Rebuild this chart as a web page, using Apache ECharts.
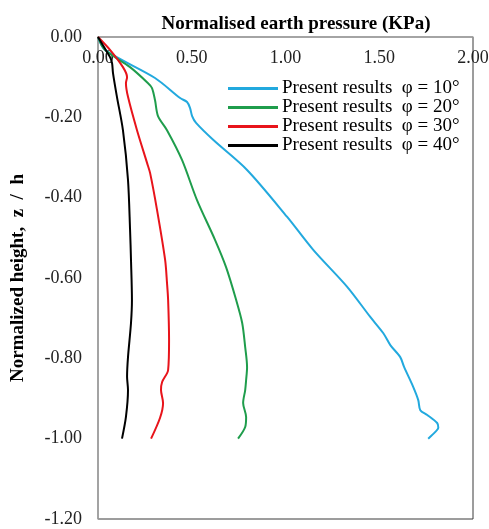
<!DOCTYPE html>
<html>
<head>
<meta charset="utf-8">
<script src="https://cdn.jsdelivr.net/npm/echarts@6/dist/echarts.min.js"></script>
<style>
  html, body { margin: 0; padding: 0; background: #fff; }
  #chart { width: 489px; height: 529px; }
</style>
</head>
<body>
<div id="chart"></div>
<script>
// normalised earth pressure (x) against normalised height (y)
const phi10Pressure = [0, 0.037, 0.304, 0.438, 0.475, 0.491, 0.502, 0.523, 0.614, 0.795, 1.009, 1.148, 1.329, 1.452, 1.521, 1.559, 1.612, 1.633, 1.681, 1.708, 1.719, 1.756, 1.809, 1.815, 1.799, 1.761]
const phi10Height = [0, -0.032, -0.102, -0.152, -0.162, -0.177, -0.197, -0.214, -0.256, -0.331, -0.448, -0.530, -0.622, -0.697, -0.737, -0.767, -0.797, -0.822, -0.871, -0.904, -0.929, -0.941, -0.961, -0.973, -0.983, -1.0]

const phi20Pressure = [0, 0.037, 0.171, 0.267, 0.288, 0.304, 0.320, 0.368, 0.448, 0.528, 0.624, 0.683, 0.737, 0.769, 0.785, 0.795, 0.790, 0.785, 0.774, 0.790, 0.785, 0.747]
const phi20Height = [0, -0.032, -0.075, -0.115, -0.127, -0.157, -0.197, -0.232, -0.306, -0.406, -0.505, -0.573, -0.655, -0.712, -0.772, -0.822, -0.854, -0.879, -0.911, -0.946, -0.971, -1.0]

const phi30Pressure = [0, 0.064, 0.133, 0.155, 0.149, 0.160, 0.208, 0.262, 0.278, 0.315, 0.358, 0.368, 0.374, 0.379, 0.374, 0.342, 0.336, 0.347, 0.331, 0.283]
const phi30Height = [0, -0.032, -0.075, -0.100, -0.115, -0.149, -0.232, -0.314, -0.339, -0.431, -0.555, -0.612, -0.655, -0.754, -0.829, -0.859, -0.879, -0.911, -0.948, -1.0]

const phi40Pressure = [0, 0.032, 0.064, 0.075, 0.080, 0.101, 0.133, 0.160, 0.171, 0.176, 0.181, 0.176, 0.160, 0.155, 0.160, 0.149, 0.128]
const phi40Height = [0, -0.025, -0.050, -0.065, -0.090, -0.149, -0.232, -0.356, -0.480, -0.555, -0.655, -0.712, -0.797, -0.846, -0.879, -0.946, -1.0]

const seriesNames = ['Present results  φ = 10°', 'Present results  φ = 20°', 'Present results  φ = 30°', 'Present results  φ = 40°']
const seriesColors = ['#22a9de', '#1f9d4c', '#e8141b', '#000000']

const xTicks = { min: 0, max: 2, interval: 0.5 }
const yTicks = { min: -1.2, max: 0, interval: 0.2 }

const font = '"Liberation Serif", "Times New Roman", serif'

function pairs(xs, ys) {
  return xs.map((x, i) => [x, ys[i]])
}

const curves = [
  pairs(phi10Pressure, phi10Height),
  pairs(phi20Pressure, phi20Height),
  pairs(phi30Pressure, phi30Height),
  pairs(phi40Pressure, phi40Height)
]

function fmt(v) {
  if (Math.abs(v) < 1e-9) return '0.00'
  return v.toFixed(2)
}

const chart = echarts.init(document.getElementById('chart'))

const option = {
  animation: false,
  backgroundColor: '#fff',
  title: {
    text: 'Normalised earth pressure (KPa)',
    left: 291,
    top: 10,
    textAlign: 'center',
    textStyle: {
      fontFamily: font,
      fontWeight: 'bold',
      fontSize: 19,
      color: '#000'
    }
  },
  grid: {
    left: 98,
    top: 37,
    width: 375,
    height: 482,
    outerBoundsMode: 'none',
    containLabel: false,
    show: true,
    borderColor: '#3a3a3a',
    borderWidth: 1
  },
  legend: {
    orient: 'vertical',
    left: 223,
    top: 74,
    icon: 'rect',
    itemWidth: 50,
    itemHeight: 3,
    itemGap: 0,
    textStyle: {
      fontFamily: font,
      fontSize: 19,
      lineHeight: 19,
      color: '#000',
      padding: [0, 0, 0, -1]
    },
    data: seriesNames
  },
  xAxis: {
    type: 'value',
    position: 'top',
    min: xTicks.min,
    max: xTicks.max,
    interval: xTicks.interval,
    axisLine: { show: true, lineStyle: { color: '#a6a6a6', width: 1.5 } },
    axisTick: { show: false },
    splitLine: { show: false },
    axisLabel: {
      inside: true,
      margin: 12,
      formatter: fmt,
      fontFamily: font,
      fontSize: 18,
      color: '#222'
    }
  },
  yAxis: {
    type: 'value',
    min: yTicks.min,
    max: yTicks.max,
    interval: yTicks.interval,
    name: 'Normalized height,  z  /  h',
    nameLocation: 'middle',
    nameRotate: 90,
    nameGap: 70,
    nameTextStyle: {
      fontFamily: font,
      fontWeight: 'bold',
      fontSize: 19,
      color: '#000'
    },
    axisLine: { show: true, lineStyle: { color: '#a6a6a6', width: 1.5 } },
    axisTick: { show: false },
    splitLine: { show: false },
    axisLabel: {
      margin: 16,
      formatter: fmt,
      fontFamily: font,
      fontSize: 18,
      color: '#222'
    }
  },
  series: curves.map((data, i) => ({
    name: seriesNames[i],
    type: 'line',
    data: data,
    symbol: 'none',
    smooth: 0.3,
    lineStyle: { color: seriesColors[i], width: 2 },
    itemStyle: { color: seriesColors[i] }
  }))
}

chart.setOption(option)
</script>
</body>
</html>
